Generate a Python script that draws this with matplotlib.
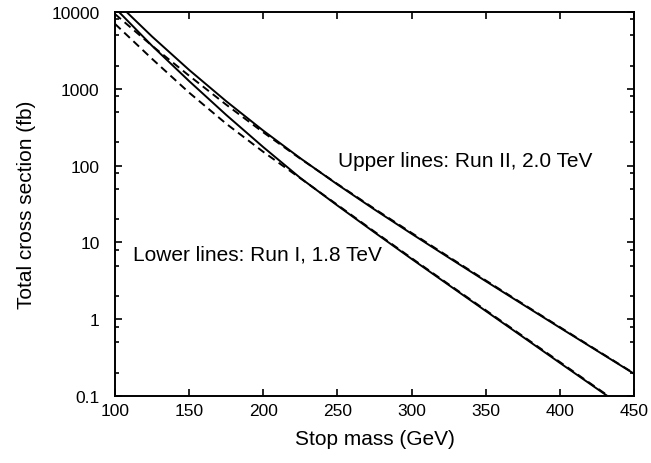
import matplotlib
matplotlib.use("Agg")
import matplotlib.pyplot as plt
from matplotlib.ticker import FixedLocator, NullFormatter, FixedFormatter

plt.rcParams['font.family'] = ['Liberation Sans', 'DejaVu Sans']

mass = [100, 125, 150, 175, 200, 225, 250, 275, 300, 325, 350, 375, 400, 425, 450]

run2_solid = [13980, 4790, 1760, 689, 285, 124.6, 56.8, 26.8, 12.96, 6.35, 3.13, 1.557, 0.776, 0.389, 0.195]
run2_dashed = [9400, 3630, 1480, 621, 271, 123, 57.6, 27.4, 13.3, 6.5, 3.2, 1.587, 0.789, 0.394, 0.197]
run1_solid = [11300, 3630, 1260, 457, 174, 69, 30.2, 13.5, 6.1, 2.79, 1.28, 0.589, 0.270, 0.1245, 0.0575]
run1_dashed = [7000, 2455, 891, 351, 151, 68.4, 30.8, 13.8, 6.24, 2.85, 1.31, 0.603, 0.277, 0.127, 0.0589]

y_ticks = [0.1, 1, 10, 100, 1000, 10000]
y_tick_labels = ["0.1", "1", "10", "100", "1000", "10000"]
x_ticks = [100, 150, 200, 250, 300, 350, 400, 450]

fig = plt.figure(figsize=(6.51, 4.64), dpi=100)
ax = fig.add_axes([115/651, 1-397/464, (634-115)/651, (397-13)/464])

lw = 1.4
ax.plot(mass, run2_solid, color='black', lw=lw, ls='-')
ax.plot(mass, run2_dashed, color='black', lw=lw, ls=(0, (4, 2.5)))
ax.plot(mass, run1_solid, color='black', lw=lw, ls='-')
ax.plot(mass, run1_dashed, color='black', lw=lw, ls=(0, (4, 2.5)))

ax.set_yscale('log')
ax.set_xlim(100, 450)
ax.set_ylim(0.1, 10000)

ax.yaxis.set_major_locator(FixedLocator(y_ticks))
ax.yaxis.set_major_formatter(FixedFormatter(y_tick_labels))
minor = [m * 10.0**e for e in range(-1, 4) for m in (2, 5, 8)]
ax.yaxis.set_minor_locator(FixedLocator(minor))
ax.yaxis.set_minor_formatter(NullFormatter())
ax.set_xticks(x_ticks)

ax.tick_params(which='both', direction='in', top=True, right=True, labelsize=12.5, width=1.2)
ax.tick_params(which='major', length=5)
ax.tick_params(axis='x', which='major', pad=5)
ax.tick_params(axis='y', which='major', pad=11)
ax.tick_params(which='minor', length=3)
for s in ax.spines.values():
    s.set_linewidth(1.4)

ax.set_xlabel("Stop mass (GeV)", fontsize=15, labelpad=8)
ax.set_ylabel("Total cross section (fb)", fontsize=15, labelpad=11)

ax.text(250.4, 115, "Upper lines: Run II, 2.0 TeV", fontsize=15, ha='left', va='center')
ax.text(112, 7.06, "Lower lines: Run I, 1.8 TeV", fontsize=15, ha='left', va='center')

fig.savefig("out.png", dpi=100)
